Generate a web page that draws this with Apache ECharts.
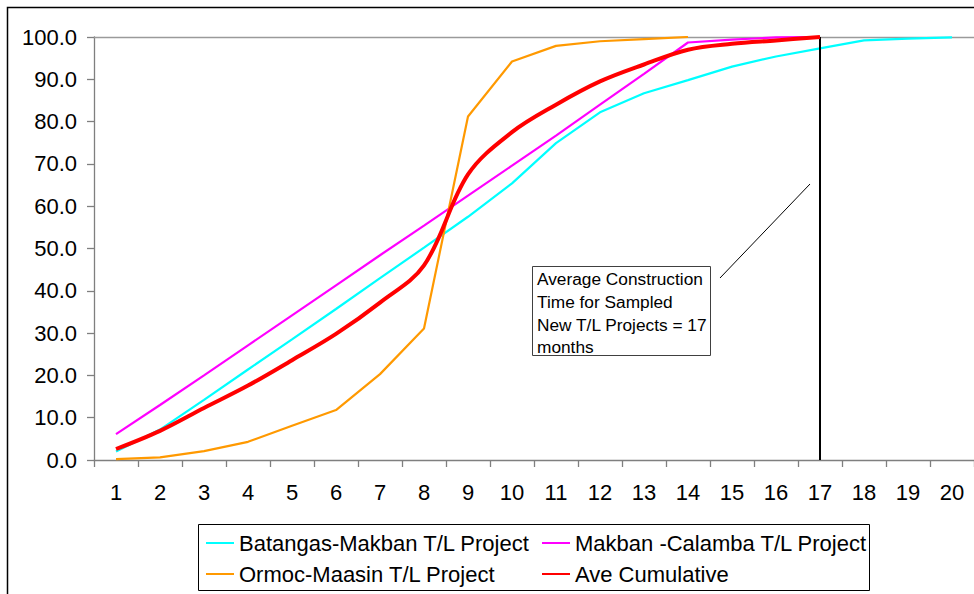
<!DOCTYPE html>
<html>
<head>
<meta charset="utf-8">
<script src="https://cdn.jsdelivr.net/npm/echarts@6/dist/echarts.min.js"></script>
<style>
  html, body { margin: 0; padding: 0; background: #fff; }
  #chart { width: 974px; height: 594px; }
</style>
</head>
<body>
<div id="chart"></div>
<script>
// Months since start of construction
const months = ['1','2','3','4','5','6','7','8','9','10','11','12','13','14','15','16','17','18','19','20'];

// Cumulative percent complete per project
const batangasMakban = [2.0, 7.2, 14.2, 21.4, 28.5, 35.7, 43.0, 50.2, 57.5, 65.4, 74.9, 82.2, 86.7, 89.8, 93.0, 95.4, 97.3, 99.2, 99.6, 99.9];
const makbanCalamba  = [6.1, 13.0, 20.0, 27.1, 34.2, 41.3, 48.4, 55.4, 62.5, 69.6, 76.7, 84.0, 91.3, 98.7, 99.4, 99.9, 100.0];
const ormocMaasin    = [0.2, 0.6, 2.1, 4.3, 8.1, 11.8, 20.3, 31.1, 81.2, 94.2, 97.9, 99.0, 99.5, 100.0];
const aveCumulative  = [2.6, 6.9, 12.3, 17.6, 23.6, 29.8, 37.2, 46.0, 67.5, 77.5, 84.0, 89.5, 93.5, 97.0, 98.4, 99.2, 100.0];

// Average construction time marker
const avgMonth = '17';
const noteLines = ['Average Construction', 'Time for Sampled', 'New T/L Projects = 17', 'months'];

const FONT = '"Liberation Sans", Arial, Helvetica, sans-serif';
const axisGrey = '#7f7f7f';

const chart = echarts.init(document.getElementById('chart'), null, { renderer: 'svg' });

const legendText = { fontFamily: FONT, fontSize: 22, color: '#000', lineHeight: 22 };
const legendCommon = {
  orient: 'vertical',
  top: 532,
  padding: 0,
  itemWidth: 28, itemHeight: 14, itemGap: 9,
  itemStyle: { opacity: 0 },
  textStyle: legendText,
  selectedMode: false
};

chart.setOption({
  animation: false,
  backgroundColor: '#fff',
  grid: { left: 94, right: 0, top: 37, bottom: 134, containLabel: false },
  xAxis: [
    {
      type: 'category',
      data: months,
      boundaryGap: true,
      axisLine: { lineStyle: { color: axisGrey, width: 1.3 } },
      axisTick: { show: true, length: 7, lineStyle: { color: axisGrey, width: 1.3 } },
      axisLabel: { fontFamily: FONT, fontSize: 22, color: '#000', margin: 21, interval: 0 },
      splitLine: { show: false }
    },
    {
      type: 'category',
      data: months,
      position: 'top',
      boundaryGap: true,
      axisLine: { show: true, lineStyle: { color: '#9a9a9a', width: 1.3 } },
      axisTick: { show: false },
      axisLabel: { show: false },
      splitLine: { show: false }
    }
  ],
  yAxis: {
    type: 'value',
    min: 0,
    max: 100,
    interval: 10,
    axisLine: { show: true, lineStyle: { color: axisGrey, width: 1.3 } },
    axisTick: { show: true, length: 7, lineStyle: { color: axisGrey, width: 1.3 } },
    axisLabel: {
      fontFamily: FONT, fontSize: 22, color: '#000', margin: 17,
      formatter: v => v.toFixed(1)
    },
    splitLine: { show: false }
  },
  legend: [
    Object.assign({ data: ['Batangas-Makban T/L Project', 'Ormoc-Maasin T/L Project'], left: 205 }, legendCommon),
    Object.assign({ data: ['Makban -Calamba T/L Project', 'Ave Cumulative'], left: 541 }, legendCommon)
  ],
  series: [
    {
      name: 'Batangas-Makban T/L Project',
      type: 'line',
      data: batangasMakban,
      symbol: 'none',
      lineStyle: { color: '#00ffff', width: 2.2 },
      itemStyle: { color: '#00ffff' }
    },
    {
      name: 'Makban -Calamba T/L Project',
      type: 'line',
      data: makbanCalamba,
      symbol: 'none',
      lineStyle: { color: '#ff00ff', width: 2.2 },
      itemStyle: { color: '#ff00ff' }
    },
    {
      name: 'Ormoc-Maasin T/L Project',
      type: 'line',
      data: ormocMaasin,
      symbol: 'none',
      lineStyle: { color: '#ff9900', width: 2.2 },
      itemStyle: { color: '#ff9900' }
    },
    {
      name: 'Ave Cumulative',
      type: 'line',
      data: aveCumulative,
      symbol: 'none',
      smooth: 0.35,
      lineStyle: { color: '#ff0000', width: 4 },
      itemStyle: { color: '#ff0000' },
      z: 5,
      markLine: {
        silent: true,
        symbol: ['none', 'none'],
        label: { show: false },
        lineStyle: { color: '#000', width: 2, type: 'solid' },
        data: [{ xAxis: avgMonth }]
      }
    }
  ],
  graphic: [
    // chart frame
    {
      type: 'rect',
      shape: { x: 7.5, y: 7.5, width: 1000, height: 620 },
      style: { fill: 'none', stroke: '#000', lineWidth: 1.5 },
      silent: true, z: -1
    },
    // legend frame
    {
      type: 'rect',
      shape: { x: 198.5, y: 524.5, width: 671, height: 66 },
      style: { fill: 'none', stroke: '#000', lineWidth: 1 },
      silent: true
    },
    // callout box
    {
      type: 'rect',
      shape: { x: 532.5, y: 266.5, width: 178, height: 89 },
      style: { fill: '#fff', stroke: '#404040', lineWidth: 1 },
      silent: true, z: 10
    },
    {
      type: 'text',
      x: 537, y: 268,
      style: {
        text: noteLines.join('\n'),
        font: '17.3px ' + FONT,
        fill: '#000',
        lineHeight: 22.7,
        verticalAlign: 'top'
      },
      silent: true, z: 11
    },
    // callout leader
    {
      type: 'line',
      shape: { x1: 720, y1: 278, x2: 810, y2: 184 },
      style: { stroke: '#000', lineWidth: 1 },
      silent: true, z: 10
    }
  ]
});
</script>
</body>
</html>
